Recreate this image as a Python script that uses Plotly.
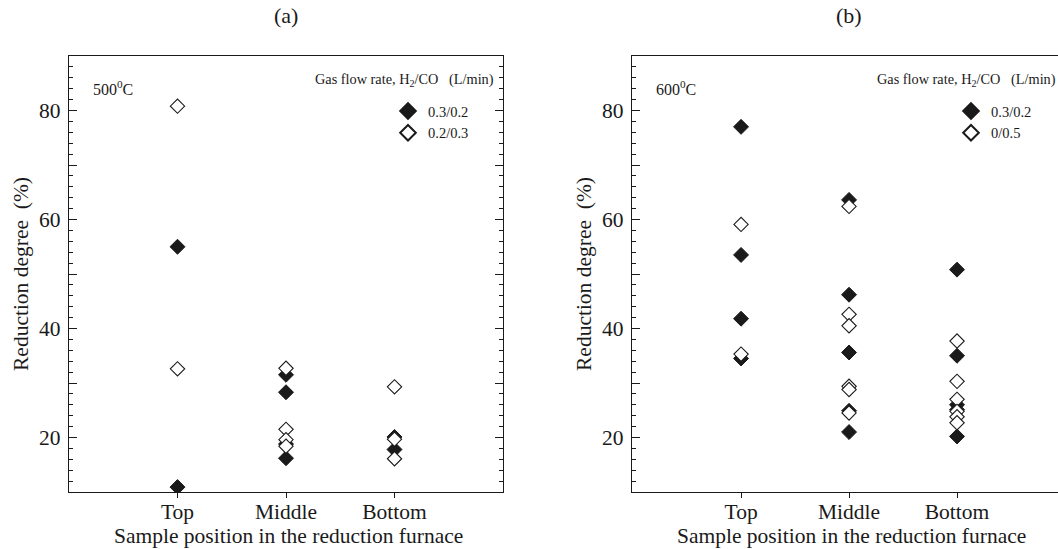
import plotly.graph_objects as go

W, H = 1058, 549
FONT = "Liberation Serif, Times New Roman, DejaVu Serif, serif"
INK = "#1a1a1a"

categories = ["Top", "Middle", "Bottom"]
cat_pos = {"Top": 1, "Middle": 2, "Bottom": 3}

# Panel (a) 500 C
a_filled_pos = ["Top", "Top", "Middle", "Middle", "Middle", "Middle", "Bottom", "Bottom"]
a_filled_val = [55.0, 10.9, 31.5, 28.3, 18.8, 16.2, 20.1, 17.8]
a_open_pos = ["Top", "Top", "Middle", "Middle", "Middle", "Middle", "Bottom", "Bottom", "Bottom"]
a_open_val = [80.8, 32.6, 32.7, 21.5, 19.6, 18.4, 29.3, 19.7, 16.1]

# Panel (b) 600 C
b_filled_pos = ["Top", "Top", "Top", "Top",
                "Middle", "Middle", "Middle", "Middle", "Middle",
                "Bottom", "Bottom", "Bottom", "Bottom", "Bottom"]
b_filled_val = [77.0, 53.5, 41.8, 34.5,
                63.6, 46.2, 35.6, 24.9, 21.0,
                50.8, 35.0, 26.0, 25.1, 20.2]
b_open_pos = ["Top", "Top",
              "Middle", "Middle", "Middle", "Middle", "Middle", "Middle",
              "Bottom", "Bottom", "Bottom", "Bottom", "Bottom", "Bottom"]
b_open_val = [59.1, 35.3,
              62.4, 42.6, 40.5, 29.4, 28.8, 24.5,
              37.7, 30.3, 27.0, 24.8, 23.8, 22.7]

legend_a = ["0.3/0.2", "0.2/0.3"]
legend_b = ["0.3/0.2", "0/0.5"]

y_major = [10, 20, 30, 40, 50, 60, 70, 80, 90]
y_major_text = ["", "20", "", "40", "", "60", "", "80", ""]


def px_x(p):
    return p / W


def px_y(p):
    return 1 - p / H


filled_marker = dict(symbol="diamond", size=11.5, color=INK, line=dict(color=INK, width=1))
open_marker = dict(symbol="diamond", size=11, color="white", line=dict(color=INK, width=1.1))

fig = go.Figure()
fig.add_trace(go.Scatter(x=[cat_pos[c] for c in a_filled_pos], y=a_filled_val, mode="markers",
                         marker=filled_marker, name=legend_a[0], xaxis="x", yaxis="y", legend="legend"))
fig.add_trace(go.Scatter(x=[cat_pos[c] for c in a_open_pos], y=a_open_val, mode="markers",
                         marker=open_marker, name=legend_a[1], xaxis="x", yaxis="y", legend="legend"))
fig.add_trace(go.Scatter(x=[cat_pos[c] for c in b_filled_pos], y=b_filled_val, mode="markers",
                         marker=filled_marker, name=legend_b[0], xaxis="x2", yaxis="y2", legend="legend2"))
fig.add_trace(go.Scatter(x=[cat_pos[c] for c in b_open_pos], y=b_open_val, mode="markers",
                         marker=open_marker, name=legend_b[1], xaxis="x2", yaxis="y2", legend="legend2"))

ydom = [px_y(492), px_y(56)]
xdom_a = [px_x(69), px_x(503)]
xdom_b = [px_x(632), 1.0]
xr_a = [0, 4]
xr_b = [-0.01, 3.935]

tickfont = dict(family=FONT, size=21.5, color=INK)

common_x = dict(tickmode="array", tickvals=[1, 2, 3], ticktext=categories, ticks="outside",
                ticklen=5, tickcolor=INK, showline=True, linecolor=INK, linewidth=1.2,
                showgrid=False, zeroline=False, tickfont=tickfont, ticklabelstandoff=-5)
common_y = dict(range=[10, 90], tickmode="array", tickvals=y_major, ticktext=y_major_text,
                ticks="inside", ticklen=8, tickcolor=INK, tickwidth=1, showline=True,
                linecolor=INK, linewidth=1.2, showgrid=False, zeroline=False, tickfont=tickfont,
                ticklabelstandoff=3,
                minor=dict(tickmode="linear", tick0=10, dtick=2, ticks="inside", ticklen=4,
                           tickcolor=INK, showgrid=False))
top_x = dict(tickmode="array", tickvals=[1, 2, 3], ticks="inside", ticklen=8, tickcolor=INK,
             showticklabels=False, showline=False, showgrid=False, zeroline=False, side="top")

fig.update_layout(
    width=W, height=H, margin=dict(l=0, r=0, t=0, b=0),
    paper_bgcolor="white", plot_bgcolor="white",
    font=dict(family=FONT, color=INK),
    xaxis=dict(domain=xdom_a, range=xr_a, anchor="y", mirror=True, **common_x),
    yaxis=dict(domain=ydom, anchor="x", mirror="ticks", **common_y),
    xaxis2=dict(domain=xdom_b, range=xr_b, anchor="y2", mirror=True, **common_x),
    yaxis2=dict(domain=ydom, anchor="x2", mirror=False, **common_y),
    xaxis3=dict(overlaying="x", anchor="y", range=xr_a, **top_x),
    xaxis4=dict(overlaying="x2", anchor="y2", range=xr_b, **top_x),
    yaxis4=dict(overlaying="y2", anchor="x2", side="right", range=[10, 90], tickmode="array",
                tickvals=y_major, ticks="inside", ticklen=3, tickcolor=INK,
                showticklabels=False, showline=False, showgrid=False, zeroline=False),
    legend=dict(x=px_x(388), y=px_y(95), xanchor="left", yanchor="top",
                bgcolor="rgba(0,0,0,0)", font=dict(family=FONT, size=14.5, color=INK),
                tracegroupgap=0, itemsizing="constant"),
    legend2=dict(x=px_x(951), y=px_y(95), xanchor="left", yanchor="top",
                 bgcolor="rgba(0,0,0,0)", font=dict(family=FONT, size=14.5, color=INK),
                 tracegroupgap=0, itemsizing="constant"),
    showlegend=True,
)

ann = []


def add_text(text, x, y, size, xanchor="center", yanchor="middle", angle=0):
    ann.append(dict(text=text, x=px_x(x), y=px_y(y), xref="paper", yref="paper",
                    xanchor=xanchor, yanchor=yanchor, showarrow=False, textangle=angle,
                    font=dict(family=FONT, size=size, color=INK)))


add_text("(a)", 286, 15, 22)
add_text("(b)", 849, 15, 22)
add_text("Reduction degree  (%)", 21, 274, 21.5, angle=-90)
add_text("Reduction degree  (%)", 584, 274, 21.5, angle=-90)
add_text("Sample position in the reduction furnace", 288, 536, 21.5)
add_text("Sample position in the reduction furnace", 851, 536, 21.5)
add_text("500<sup>0</sup>C", 91, 88, 16, xanchor="left")
add_text("600<sup>0</sup>C", 654, 88, 16, xanchor="left")
add_text("Gas flow rate, H<sub>2</sub>/CO   (L/min)", 496, 80, 14.3, xanchor="right")
add_text("Gas flow rate, H<sub>2</sub>/CO   (L/min)", 1058, 80, 14.3, xanchor="right")

fig.update_layout(annotations=ann)

fig.write_html("out.html")
